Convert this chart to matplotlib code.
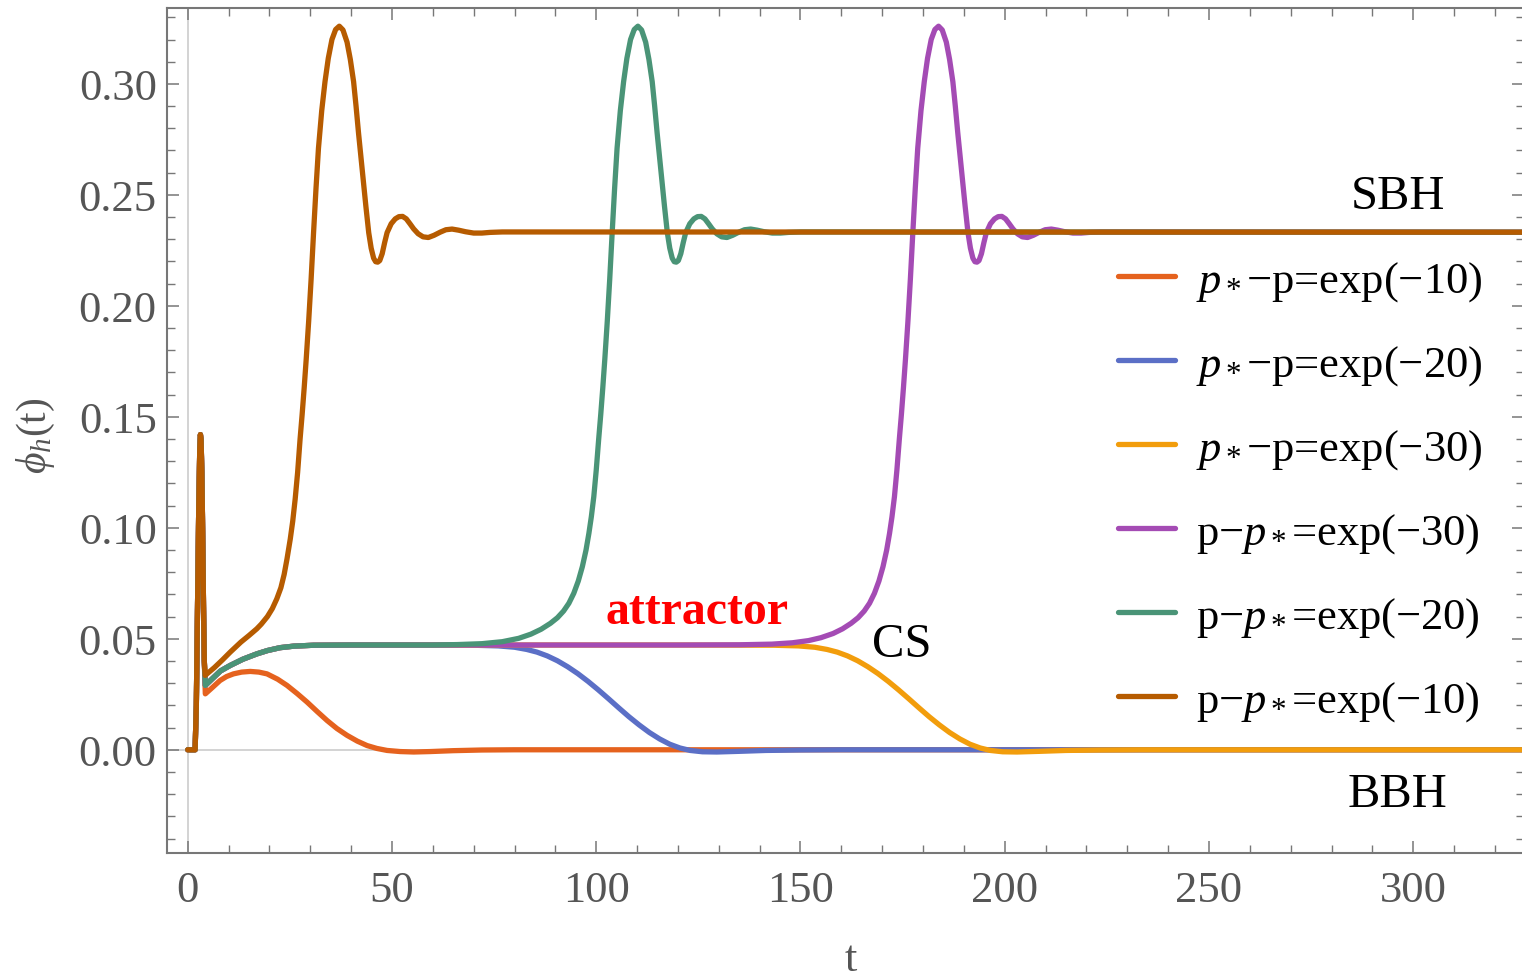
import matplotlib
matplotlib.use("Agg")
import matplotlib.pyplot as plt
import numpy as np
from matplotlib.ticker import MultipleLocator, FormatStrFormatter

plt.rcParams['font.family'] = ['Liberation Serif', 'DejaVu Serif']
plt.rcParams['mathtext.fontset'] = 'custom'
plt.rcParams['mathtext.rm'] = 'Liberation Serif'
plt.rcParams['mathtext.it'] = 'Liberation Serif:italic'
plt.rcParams['mathtext.bf'] = 'Liberation Serif:bold'

# early spike shared by every run
t_spike = [0.0, 1.8, 2.1, 2.4, 2.7, 2.95, 3.1, 3.25, 3.45, 3.65, 3.85, 4.05]
phi_spike = [0.0, 0.0, 0.02, 0.065, 0.11, 0.136, 0.142, 0.140, 0.125, 0.098, 0.066, 0.040]

# approach to the critical solution (attractor)
t_attr = [4.3, 6.0, 8.0, 10.4, 13.5, 16.9, 19.5, 22.6, 26.0, 30.8, 40.0, 50.0, 60.0]
phi_attr = [0.029, 0.032, 0.0355, 0.038, 0.0408, 0.0432, 0.0447, 0.0460, 0.0467, 0.0471,
            0.0472, 0.0472, 0.0472]

# p* - p = exp(-10)
t_m10 = [4.3, 6.0, 7.9, 9.5, 11.2, 13.2, 15.3, 17.4, 19.4, 22.0, 24.3, 26.8, 29.2, 31.7,
         34.1, 36.5, 39.0, 41.5, 43.9, 46.3, 48.8, 52.0, 55.3, 59.4, 65.0, 72.0, 80.0, 327.0]
phi_m10 = [0.0252, 0.028, 0.0312, 0.0330, 0.0342, 0.0350, 0.0353, 0.0350, 0.0342, 0.0318,
           0.029, 0.0253, 0.0215, 0.0172, 0.0132, 0.0096, 0.0065, 0.0039, 0.0019, 0.0006,
           -0.0003, -0.0008, -0.001, -0.0008, -0.0004, -0.0001, 0.0, 0.0]

# p* - p = exp(-20)
t_m20 = [70.0, 76.0, 80.0, 83.0, 85.5, 88.0, 90.5, 93.0, 95.5, 98.0, 100.5, 103.0, 105.5,
         108.0, 110.5, 113.0, 115.5, 118.0, 120.5, 123.0, 126.0, 129.5, 135.0, 141.5, 150.0,
         160.0, 327.0]
phi_m20 = [0.0471, 0.0468, 0.0462, 0.0452, 0.0440, 0.0423, 0.0401, 0.0374, 0.0343, 0.0308,
           0.0270, 0.0230, 0.0189, 0.0149, 0.0112, 0.0078, 0.0049, 0.0025, 0.0008, -0.0003,
           -0.0009, -0.0010, -0.0007, -0.0003, -0.0001, 0.0, 0.0]

# p* - p = exp(-30)
t_m30 = [80.0, 100.0, 120.0, 143.5, 149.5, 153.5, 156.5, 159.0, 161.5, 164.0, 166.5, 169.0,
         171.5, 174.0, 176.5, 179.0, 181.5, 184.0, 186.5, 189.0, 191.5, 194.0, 196.5, 199.5,
         203.0, 208.5, 215.0, 223.5, 233.5, 327.0]
phi_m30 = [0.0472, 0.0472, 0.0472, 0.0471, 0.0468, 0.0462, 0.0452, 0.0440, 0.0423, 0.0401,
           0.0374, 0.0343, 0.0308, 0.0270, 0.0230, 0.0189, 0.0149, 0.0112, 0.0078, 0.0049,
           0.0025, 0.0008, -0.0003, -0.0009, -0.0010, -0.0007, -0.0003, -0.0001, 0.0, 0.0]

# p - p* = exp(-30)
t_p30 = [80.0, 100.0, 120.0, 135.0, 143.0, 148.0, 152.0, 155.0, 158.0, 160.3, 162.4, 164.1,
         165.6, 166.9, 168.1, 169.2, 170.2, 171.1, 171.8, 172.4, 173.0, 173.6, 174.2, 174.7,
         175.2, 175.7, 176.3, 176.9, 177.5, 178.1, 178.7, 179.5, 180.3, 181.1, 182.0, 182.9,
         183.8, 184.7, 185.7, 186.5, 187.3, 187.9, 188.5, 189.1, 189.7, 190.3, 191.0, 191.6,
         192.2, 192.7, 193.2, 193.7, 194.3, 194.9, 195.5, 196.5, 197.5, 198.4, 199.3, 200.2,
         201.1, 202.0, 203.1, 204.3, 205.6, 207.0, 208.5, 209.9, 211.4, 213.0, 214.7, 216.7,
         218.7, 220.7, 223.7, 327.0]
phi_p30 = [0.0472, 0.0472, 0.0472, 0.0473, 0.0476, 0.0482, 0.0492, 0.0505, 0.0524, 0.0545,
           0.0570, 0.0595, 0.0625, 0.0660, 0.0705, 0.0760, 0.0825, 0.0900, 0.0975, 0.105,
           0.114, 0.126, 0.140, 0.151, 0.163, 0.176, 0.193, 0.212, 0.233, 0.253, 0.271,
           0.288, 0.301, 0.3115, 0.320, 0.3245, 0.326, 0.3243, 0.3188, 0.311, 0.301, 0.290,
           0.278, 0.267, 0.256, 0.245, 0.233, 0.226, 0.2215, 0.2199, 0.2197, 0.2204, 0.2235,
           0.2285, 0.233, 0.2370, 0.2392, 0.2402, 0.2403, 0.2392, 0.2370, 0.2347, 0.2325,
           0.2311, 0.2308, 0.2318, 0.2332, 0.2343, 0.2346, 0.2341, 0.2334, 0.2328, 0.2328,
           0.2331, 0.2333, 0.2332]

# p - p* = exp(-20)
t_p20 = [66.0, 72.0, 77.0, 81.0, 84.0, 86.5, 88.8, 90.5, 92.0, 93.3, 94.5, 95.6, 96.6, 97.5,
         98.2, 98.8, 99.4, 100.0, 100.6, 101.1, 101.6, 102.1, 102.7, 103.3, 103.9, 104.5,
         105.1, 105.9, 106.7, 107.5, 108.4, 109.3, 110.2, 111.1, 112.1, 112.9, 113.7, 114.3,
         114.9, 115.5, 116.1, 116.7, 117.4, 118.0, 118.6, 119.1, 119.6, 120.1, 120.7, 121.3,
         121.9, 122.9, 123.9, 124.8, 125.7, 126.6, 127.5, 128.4, 129.5, 130.7, 132.0, 133.4,
         134.9, 136.3, 137.8, 139.4, 141.1, 143.1, 145.1, 147.1, 150.1, 327.0]
phi_p20 = [0.0474, 0.0478, 0.0487, 0.0502, 0.0521, 0.0543, 0.0570, 0.0595, 0.0625, 0.0660,
           0.0705, 0.0760, 0.0825, 0.0900, 0.0975, 0.105, 0.114, 0.126, 0.140, 0.151, 0.163,
           0.176, 0.193, 0.212, 0.233, 0.253, 0.271, 0.288, 0.301, 0.3115, 0.320, 0.3245,
           0.326, 0.3243, 0.3188, 0.311, 0.301, 0.290, 0.278, 0.267, 0.256, 0.245, 0.233,
           0.226, 0.2215, 0.2199, 0.2197, 0.2204, 0.2235, 0.2285, 0.233, 0.2370, 0.2392,
           0.2402, 0.2403, 0.2392, 0.2370, 0.2347, 0.2325, 0.2311, 0.2308, 0.2318, 0.2332,
           0.2343, 0.2346, 0.2341, 0.2334, 0.2328, 0.2328, 0.2331, 0.2333, 0.2332]

# p - p* = exp(-10)
t_p10 = [4.26, 6.5, 8.5, 10.4, 13.0, 15.0, 16.9, 18.0, 19.5, 20.7, 21.8, 22.8, 23.6, 24.3,
         25.1, 25.7, 26.3, 26.9, 27.5, 28.0, 28.5, 29.0, 29.6, 30.2, 30.8, 31.4, 32.0, 32.8,
         33.6, 34.4, 35.3, 36.2, 37.1, 38.0, 39.0, 39.8, 40.6, 41.2, 41.8, 42.4, 43.0, 43.6,
         44.3, 44.9, 45.5, 46.0, 46.5, 47.0, 47.6, 48.2, 48.8, 49.8, 50.8, 51.7, 52.6, 53.5,
         54.4, 55.3, 56.4, 57.6, 58.9, 60.3, 61.8, 63.2, 64.7, 66.3, 68.0, 70.0, 72.0, 74.0,
         77.0, 327.0]
phi_p10 = [0.0335, 0.037, 0.0405, 0.044, 0.0485, 0.0515, 0.0545, 0.0566, 0.0600, 0.0636,
           0.0680, 0.0730, 0.0790, 0.086, 0.095, 0.103, 0.113, 0.125, 0.140, 0.151, 0.163,
           0.176, 0.193, 0.212, 0.233, 0.253, 0.271, 0.288, 0.301, 0.3115, 0.320, 0.3245,
           0.326, 0.3243, 0.3188, 0.311, 0.301, 0.290, 0.278, 0.267, 0.256, 0.245, 0.233,
           0.226, 0.2215, 0.2199, 0.2197, 0.2204, 0.2235, 0.2285, 0.233, 0.2370, 0.2392,
           0.2402, 0.2403, 0.2392, 0.2370, 0.2347, 0.2325, 0.2311, 0.2308, 0.2318, 0.2332,
           0.2343, 0.2346, 0.2341, 0.2334, 0.2328, 0.2328, 0.2331, 0.2333, 0.2332]

labels = [r'$p_*$$-$p=exp($-$10)', r'$p_*$$-$p=exp($-$20)', r'$p_*$$-$p=exp($-$30)',
          r'p$-$$p_*$=exp($-$30)', r'p$-$$p_*$=exp($-$20)', r'p$-$$p_*$=exp($-$10)']
colors = ['#E5621E', '#5B6FC6', '#F29D0C', '#A44BB4', '#4A9477', '#B65B00']


def full_curve(t, phi, via_attractor):
    tt = list(t_spike)
    pp = list(phi_spike)
    if via_attractor:
        tt += t_attr
        pp += phi_attr
    return np.array(tt + t), np.array(pp + phi)


series = [(t_m10, phi_m10, False), (t_m20, phi_m20, True), (t_m30, phi_m30, True),
          (t_p30, phi_p30, True), (t_p20, phi_p20, True), (t_p10, phi_p10, False)]

fig = plt.figure(figsize=(15.22, 9.78), dpi=100)
ax = fig.add_axes([0.1094, 0.1268, 0.8916, 0.864])

gray = '#777777'
ax.axhline(0, color='#cccccc', lw=1.2, zorder=1)
ax.axvline(0, color='#cccccc', lw=1.2, zorder=1)

for (t, phi, att), lab, col in zip(series, labels, colors):
    x, y = full_curve(t, phi, att)
    ax.plot(x, y, color=col, lw=3.8, label=lab, solid_joinstyle='round',
            solid_capstyle='round', zorder=3)

ax.set_xlim(-5.2, 327)
ax.set_ylim(-0.0465, 0.3342)

ax.xaxis.set_major_locator(MultipleLocator(50))
ax.xaxis.set_minor_locator(MultipleLocator(10))
ax.yaxis.set_major_locator(MultipleLocator(0.05))
ax.yaxis.set_minor_locator(MultipleLocator(0.01))
ax.yaxis.set_major_formatter(FormatStrFormatter('%.2f'))

ax.tick_params(which='both', direction='in', top=True, right=True, color=gray,
               labelcolor='#555555', labelsize=32)
ax.tick_params(which='major', length=8.6, width=1.1)
ax.tick_params(which='minor', length=5.5, width=1.0)
ax.tick_params(axis='x', pad=12)
ax.tick_params(axis='y', pad=7)
for s in ax.spines.values():
    s.set_color(gray)
    s.set_linewidth(1.5)

ax.set_xlabel('t', fontsize=32, color='#555555')
ax.xaxis.set_label_coords(0.5043, -0.1015)
ax.set_ylabel(r'$\phi_h$(t)', fontsize=30, color='#555555')
ax.yaxis.set_label_coords(-0.081, 0.495)

ax.text(296.2, 0.2495, 'SBH', fontsize=35, ha='center', va='center')
ax.text(296.2, -0.0198, 'BBH', fontsize=35, ha='center', va='center')
ax.text(174.9, 0.0477, 'CS', fontsize=35, ha='center', va='center')
ax.text(124.8, 0.0626, 'attractor', fontsize=34.5, fontweight='bold', color='red',
        ha='center', va='center')

leg = ax.legend(loc='center left', bbox_to_anchor=(0.7012, 0.4284), frameon=False,
                fontsize=32, handlelength=1.28, handletextpad=0.47, labelspacing=0.9,
                borderpad=0, borderaxespad=0)

fig.savefig('out.png', dpi=100)
